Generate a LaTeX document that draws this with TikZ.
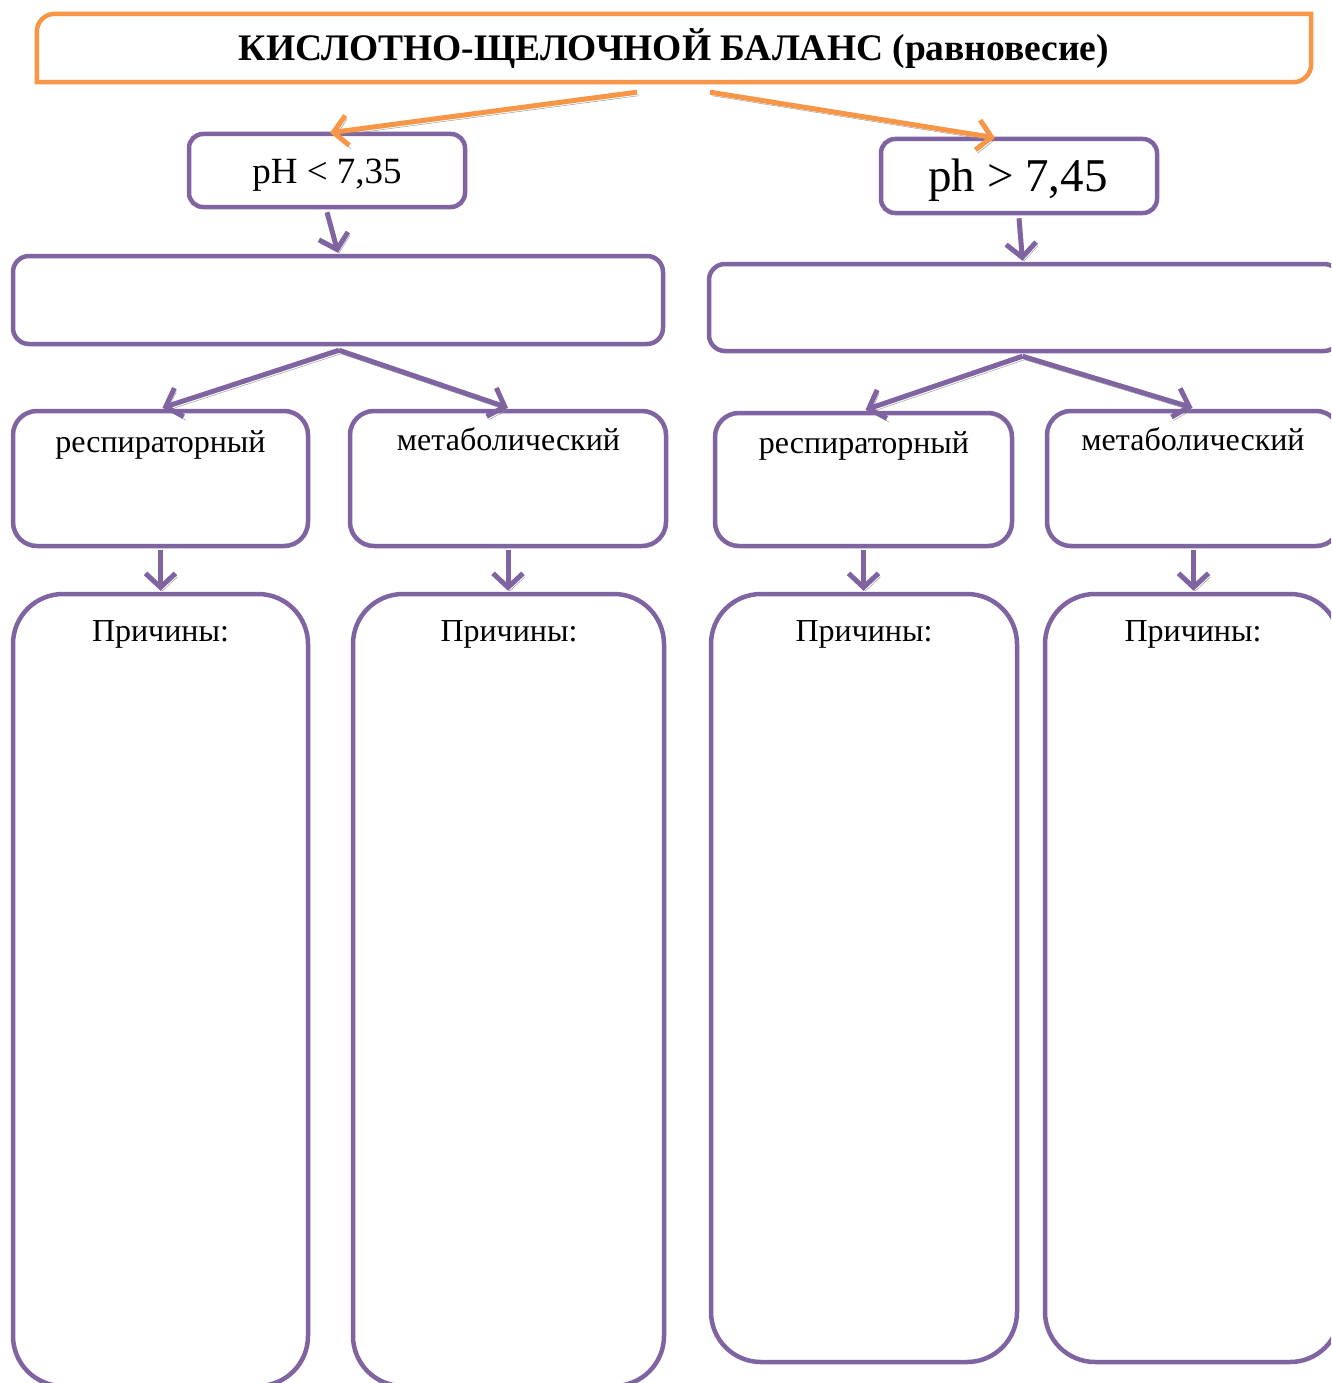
\documentclass[tikz,border=0pt]{standalone}
\usepackage{fontspec}
\setmainfont{Liberation Serif}
\usetikzlibrary{arrows.meta,calc}
\definecolor{vio}{HTML}{8064A2}
\definecolor{org}{HTML}{F79646}
\definecolor{shd}{HTML}{8E8E8E}
\tikzset{
  x=1pt, y=1pt,
  frame/.style={draw=vio, line width=4.5pt, rounded corners=#1, inner sep=0pt},
  sized/.style n args={2}{minimum width=#1, minimum height=#2},
  txt/.style={anchor=base, inner sep=0pt, font=\fontsize{#1}{#1}\selectfont},
  conn/.style={line width=5pt, draw=#1,
    -{Straight Barb[length=14pt,width=30pt]},
    preaction={draw=shd, transform canvas={shift={(2pt,-3.5pt)}}}},
}
\begin{document}
\begin{tikzpicture}
\useasboundingbox (0,0) rectangle (1331,-1383);
\clip (0,0) rectangle (1331,-1383);
\fill[white] (0,0) rectangle (1331,-1383);

% title frame: rounded at top-left and bottom-right only
\node[inner sep=0pt, sized={1274pt}{68pt}] (top) at (674,-48) {};
\draw[org, line width=4.5pt]
  (top.south west) -- ([yshift=-18pt]top.north west) arc (180:90:18)
  -- (top.north east) -- ([yshift=18pt]top.south east) arc (0:-90:18) -- cycle;
\node[txt=37.5] (title) at (674,-61) {\bfseries КИСЛОТНО-ЩЕЛОЧНОЙ БАЛАНС (равновесие)};

% pH boxes
\node[frame=14pt, sized={276pt}{73pt}] (acid) at (327,-170.5) {};
\node[txt=37] (acidt) at (327,-183) {pH < 7,35};
\node[frame=14pt, sized={276pt}{74pt}] (alk) at (1019,-176) {};
\node[txt=47] (alkt) at (1018,-191) {ph > 7,45};

% wide empty boxes
\node[frame=16pt, sized={650pt}{88pt}] (wl) at (338,-300) {};
\node[frame=16pt, sized={631pt}{87pt}] (wr) at (1024.5,-307.5) {};

% type boxes
\node[frame=24pt, sized={295pt}{135pt}] (rl) at (160.5,-478.5) {};
\node[frame=24pt, sized={316pt}{135pt}] (ml) at (508,-478.5) {};
\node[frame=24pt, sized={297pt}{133pt}] (rr) at (863.5,-479.5) {};
\node[frame=24pt, sized={293pt}{135pt}] (mr) at (1193.5,-478.5) {};
\node[txt=32] (rlt) at (160.5,-452) {респираторный};
\node[txt=32] (mlt) at (508.5,-450) {метаболический};
\node[txt=32] (rrt) at (864,-453) {респираторный};
\node[txt=32] (mrt) at (1193,-450) {метаболический};

% cause boxes
\node[frame=50pt, sized={295pt}{792pt}] (cl1) at (160.5,-990) {};
\node[frame=50pt, sized={311pt}{792pt}] (cl2) at (508.5,-990) {};
\node[frame=50pt, sized={306pt}{768pt}] (cr1) at (864,-978) {};
\node[frame=50pt, sized={295pt}{768pt}] (cr2) at (1192.5,-978) {};
\node[txt=32] (cl1t) at (160.5,-641) {Причины:};
\node[txt=32] (cl2t) at (509,-641) {Причины:};
\node[txt=32] (cr1t) at (864,-641) {Причины:};
\node[txt=32] (cr2t) at (1193,-641) {Причины:};

% connectors
\draw[conn=org] ([xshift=-37pt,yshift=-10pt]top.south) -- ([xshift=3pt,yshift=-1pt]acid.north);
\draw[conn=org] ([xshift=36pt,yshift=-10pt]top.south) -- ([xshift=-24pt,yshift=-1pt]alk.north);
\draw[conn=vio] ([yshift=-3pt]acid.south) -- ([yshift=1pt]wl.north);
\draw[conn=vio] ([yshift=-3pt]alk.south) -- ([xshift=-2pt,yshift=1pt]wr.north);
\draw[conn=vio] ([xshift=1pt,yshift=-4pt]wl.south) -- ([xshift=2pt,yshift=1pt]rl.north);
\draw[conn=vio] ([xshift=1pt,yshift=-4pt]wl.south) -- ([yshift=1pt]ml.north);
\draw[conn=vio] ([xshift=-2pt,yshift=-3pt]wr.south) -- ([xshift=2pt,yshift=1pt]rr.north);
\draw[conn=vio] ([xshift=-2pt,yshift=-3pt]wr.south) -- ([xshift=-1pt,yshift=1pt]mr.north);
\draw[conn=vio] ([yshift=-2pt]rl.south) -- ([yshift=1pt]rl.south |- cl1.north);
\draw[conn=vio] ([yshift=-2pt]ml.south) -- ([yshift=1pt]ml.south |- cl2.north);
\draw[conn=vio] ([yshift=-2pt]rr.south) -- ([yshift=1pt]rr.south |- cr1.north);
\draw[conn=vio] ([yshift=-2pt]mr.south) -- ([yshift=1pt]mr.south |- cr2.north);
\end{tikzpicture}
\end{document}
